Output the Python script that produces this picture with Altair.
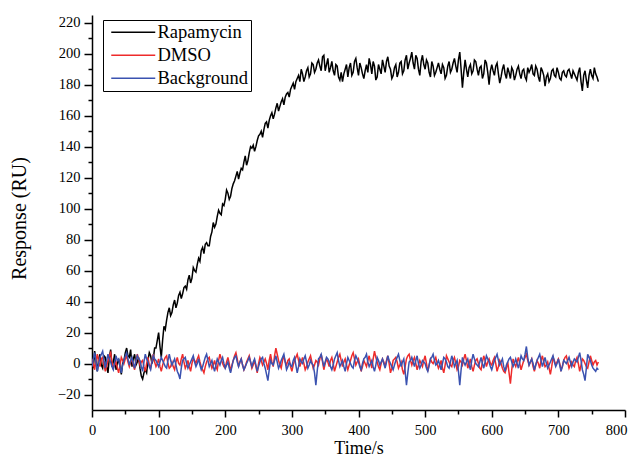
import altair as alt
import pandas as pd

# samples: "*_a" at t = 0, 4, 8, ... s ; "*_b" at t = 2, 6, 10, ... s
rapamycin_a = [
    2, 8, -5, 6, -3, 4, -6, 9, 1, -4,
    3, -7, 2, 10, 4, -2, 6, 1, -3, -10,
    -4, 2, 5, 3, 10, 20, 4, 24, 28, 36,
    33, 41, 39, 46, 45, 50, 54, 52, 62, 59,
    68, 73, 71, 78, 76, 85, 88, 95, 97, 103,
    106, 110, 108, 116, 121, 119, 126, 130, 128, 136,
    139, 137, 144, 148, 146, 155, 152, 160, 158, 165,
    163, 169, 167, 174, 172, 179, 177, 184, 182, 187,
    185, 191, 187, 193, 190, 196, 189, 199, 193, 188,
    195, 186, 192, 183, 182, 190, 185, 194, 188, 197,
    186, 191, 184, 193, 197, 187, 192, 185, 190, 196,
    188, 198, 190, 186, 193, 188, 195, 189, 199, 194,
    201, 190, 197, 186, 199, 190, 194, 185, 192, 188,
    194, 187, 191, 186, 195, 190, 197, 188, 201, 178,
    196, 185, 193, 189, 195, 186, 192, 187, 194, 180,
    193, 186, 194, 181, 190, 187, 191, 184, 189, 186,
    192, 184, 190, 183, 188, 193, 186, 190, 182, 189,
    179, 187, 184, 190, 185, 188, 183, 189, 185, 190,
    184, 187, 183, 191, 176, 189, 178, 190, 184, 187,
    182,
]
rapamycin_b = [
    -3, 1, 3, -1, 5, -2, 4, -2, 6, 0,
    -2, 0, 7, 5, 9, 3, -1, 4, -8, -6,
    -6, 7, 0, 10, 15, 11, 15, 22, 33, 31,
    38, 36, 44, 42, 49, 48, 57, 55, 60, 64,
    66, 75, 77, 76, 82, 91, 90, 99, 96, 102,
    112, 106, 113, 118, 124, 123, 125, 134, 131, 140,
    141, 140, 147, 150, 151, 156, 157, 162, 161, 168,
    166, 171, 172, 175, 177, 181, 182, 186, 190, 182,
    189, 185, 194, 188, 194, 192, 198, 189, 197, 191,
    189, 193, 185, 188, 187, 193, 191, 186, 195, 191,
    194, 187, 189, 188, 193, 195, 183, 193, 187, 192,
    195, 192, 184, 191, 185, 194, 187, 196, 190, 197,
    194, 199, 190, 195, 193, 196, 188, 195, 186, 191,
    190, 193, 184, 192, 188, 194, 192, 196, 190, 188,
    190, 191, 187, 196, 190, 191, 184, 196, 188, 189,
    189, 192, 187, 185, 193, 184, 188, 191, 183, 190,
    187, 189, 185, 191, 190, 187, 192, 185, 191, 186,
    185, 182, 189, 186, 191, 184, 188, 186, 189, 187,
    189, 185, 188, 182, 186, 183, 186, 186, 191, 185,
]

dmso_a = [
    3, -4, 6, -2, 4, -5, 2, 7, -3, 1,
    -6, 4, 0, 5, -2, 3, -4, 6, -1, 2,
    -5, 4, -3, 6, -2, 3, -5, 2, 5, -3,
    1, -4, 4, -1, 6, -3, 2, -5, 3, 0,
    5, -2, -6, 1, 4, -3, 2, -4, 6, 0,
    -3, 4, -5, 2, 7, -2, 3, -4, 1, 5,
    -3, 2, -6, 4, -1, 3, -4, 6, -2, 10,
    2, -3, 5, -1, 3, -5, 2, 6, -2, 4,
    -4, 1, 5, -3, 2, -1, 6, -4, 3, -2,
    4, -5, 1, 6, -2, 3, -4, 2, 7, -1,
    3, -5, 2, -2, 5, -3, 8, 1, -4, 3,
    -2, 5, -6, 2, 4, -3, 1, -7, 3, 6,
    -1, 4, -4, 2, -2, 5, -5, 3, 0, 4,
    -3, 2, -6, 5, 1, -2, 4, -4, 2, -1,
    6, -3, 3, -5, 2, 0, -4, 5, -2, 3,
    -1, 4, -5, 2, -3, -6, 1, -13, 3, -2,
    4, -4, 2, 6, -1, 3, -5, 2, -3, 5,
    -2, 1, -7, 4, -1, 3, -4, 2, 5, -3,
    1, -2, 4, -5, 3, 0, -3, 5, -1, 2,
    1,
]
dmso_b = [
    0, 2, 1, 3, -1, -2, 5, 1, -1, -3,
    -1, 2, 3, 1, 1, -1, 2, 3, 1, -2,
    0, -1, 2, 1, 0, -2, -1, 4, 0, -2,
    -2, 1, 0, 3, 1, -1, -2, 0, 2, 3,
    1, -4, -2, 3, 0, -1, -2, 2, 3, -2,
    1, 0, -1, 5, 3, 1, -1, -2, 3, 1,
    -1, -2, 0, 2, 1, 0, 2, 1, 5, 6,
    -1, 2, 1, 2, -2, -1, 4, 2, 1, 0,
    -2, 3, 1, -1, 1, 3, 1, 0, 1, 2,
    0, -2, 4, 2, 1, -1, -1, 5, 3, 1,
    -1, -2, 0, 2, 1, 3, 4, -2, 0, 1,
    2, 0, -3, 3, 1, -1, -4, -2, 5, 2,
    2, 0, -1, 0, 2, 0, -1, 1, 2, 0,
    -1, -3, -1, 3, -1, 2, 0, -2, 1, 3,
    2, 0, -2, -1, 3, -3, 1, 2, 1, 0,
    2, 0, -2, 0, -5, -3, -6, -4, 0, 1,
    0, -1, 4, 2, 1, -2, -1, 0, 2, 1,
    -1, -3, -2, 2, 1, 0, -2, 4, 1, -1,
    -1, 2, 0, -1, 2, -2, 1, 2, 1, -1,
]

background_a = [
    -2, 7, -5, 4, 8, -3, 6, 1, -4, 5,
    3, -6, 2, 7, -1, 4, -3, 5, 2, -5,
    6, 1, -4, 5, 2, -2, 4, 0, -3, 6,
    -1, 3, -5, -10, 2, 4, -3, 1, 5, -2,
    3, -4, 1, 6, -2, 2, -5, 3, -1, 4,
    -3, 1, -6, 2, 5, -2, 3, -4, 0, 4,
    -2, 3, -5, 1, 4, -3, -11, 2, -1, 5,
    -3, 2, 6, -4, 1, -2, 4, -6, 3, 0,
    5, -3, 2, -1, -14, 3, 6, -2, 4, 1,
    -4, 3, 7, -2, 2, -5, 4, 0, -3, 5,
    1, -4, 3, 6, -2, 2, -5, 4, -1, 3,
    -3, 5, 0, -4, 2, 6, -2, 3, -14, 1,
    4, -2, 5, -3, 2, 0, -5, 3, 6, -1,
    2, -4, 4, 1, -3, 5, -2, 2, -14, 4,
    -1, 3, -4, 6, 0, -2, 4, -3, 5, 1,
    -4, 2, 6, -1, 3, -5, 1, 4, -2, 3,
    -3, 5, 2, 11, -1, 3, -4, 2, 6, -2,
    4, -3, 1, 5, -2, 3, -5, 2, 0, 4,
    -2, 3, 1, 7, -4, -11, 6, 2, -3, -5,
    -4,
]
background_b = [
    3, 1, 0, 6, 2, 2, 3, -2, 1, 2,
    -2, -1, 5, 3, 2, 0, 2, 3, -2, 1,
    3, -2, 1, 3, 0, 1, 2, -2, 2, 2,
    1, -1, -7, -3, 3, 0, -1, 3, 1, 0,
    -1, -2, 4, 2, 0, -2, -1, 1, 2, 0,
    -1, -3, -2, 4, 1, 1, -1, -2, 2, 1,
    1, -1, -2, 3, 0, -7, -4, 0, 2, 1,
    -1, 4, 1, -2, -1, 2, -1, -2, 1, 3,
    1, -1, 0, -6, -5, 4, 2, 1, 3, -2,
    -1, 5, 2, 0, -2, 0, 2, -2, 2, 3,
    -2, 0, 4, 1, 0, -2, -1, 2, 1, 0,
    1, 2, -2, -1, 4, 2, 1, -5, -6, 2,
    1, 2, 0, -1, 1, -3, -1, 4, 2, 0,
    -1, 0, 3, -2, 1, 2, 0, -5, -4, 1,
    1, -1, 2, 3, -1, 1, 0, 1, 3, -2,
    -1, 4, 2, 1, -2, -1, 3, 1, 0, 0,
    1, 3, 6, 4, 1, 0, -1, 4, 2, 1,
    0, -1, 3, 1, 0, -1, -2, 1, 2, 1,
    1, 2, 4, 2, -7, -3, 4, -1, -4, -3,
]

series_names = ["Rapamycin", "DMSO", "Background"]
series_colors = ["#000000", "#ee2b2b", "#3a52b0"]
series_data = [
    (rapamycin_a, rapamycin_b),
    (dmso_a, dmso_b),
    (background_a, background_b),
]
x_ticks = list(range(0, 801, 50))
y_ticks = list(range(-20, 221, 10))

rows = []
for k, (name, (va, vb)) in enumerate(zip(series_names, series_data)):
    for i, v in enumerate(va):
        rows.append({"time": 4 * i, "response": v, "series": name, "layer": k})
    for i, v in enumerate(vb):
        rows.append({"time": 4 * i + 2, "response": v, "series": name, "layer": k})
df = pd.DataFrame(rows).sort_values(["layer", "time"]).reset_index(drop=True)

FONT = "Liberation Serif"

axis_common = dict(
    grid=False,
    domainColor="black",
    domainWidth=1.5,
    tickColor="black",
    tickWidth=1.5,
    labelColor="black",
    labelFont=FONT,
    labelFontSize=14.5,
    labelOverlap=False,
    labelFlush=False,
    titleFont=FONT,
    titleFontWeight="normal",
    titleColor="black",
)

chart = alt.Chart(df).mark_line(strokeWidth=1.5, clip=True).encode(
    x=alt.X(
        "time:Q",
        scale=alt.Scale(domain=[0, 800], nice=False, zero=False),
        axis=alt.Axis(
            title="Time/s",
            values=x_ticks,
            labelExpr="datum.value % 100 === 0 ? datum.label : ''",
            tickSize={"condition": {"test": "datum.value % 100 === 0", "value": 7}, "value": 4},
            labelOffset={"condition": {"test": "datum.value === 800", "value": -9}, "value": 0},
            labelPadding=6,
            titlePadding=3,
            titleFontSize=18,
            **axis_common,
        ),
    ),
    y=alt.Y(
        "response:Q",
        scale=alt.Scale(domain=[-30, 225], nice=False, zero=False),
        axis=alt.Axis(
            title="Response (RU)",
            values=y_ticks,
            labelExpr="datum.value % 20 === 0 ? datum.label : ''",
            tickSize={"condition": {"test": "datum.value % 20 === 0", "value": 8}, "value": 4},
            labelPadding=4,
            titlePadding=28,
            titleFontSize=20,
            titleY=203,
            **axis_common,
        ),
    ),
    color=alt.Color(
        "series:N",
        scale=alt.Scale(domain=series_names, range=series_colors),
        legend=alt.Legend(
            title=None,
            orient="none",
            legendX=11,
            legendY=5,
            symbolType="M-0.5,0H5",
            symbolSize=256,
            symbolStrokeWidth=1.5,
            labelFont=FONT,
            labelFontSize=18.5,
            labelColor="black",
            labelOffset=33,
            padding=3,
            rowPadding=4,
            strokeColor="black",
            fillColor="white",
        ),
    ),
    order=alt.Order("layer:Q"),
).properties(
    width=533,
    height=395,
    autosize=alt.AutoSizeParams(type="none"),
    padding={"left": 84, "top": 7, "right": 3, "bottom": 49},
    background="white",
).configure_view(stroke=None)

chart.save("out.html", embed_options={"renderer": "svg", "actions": False})
